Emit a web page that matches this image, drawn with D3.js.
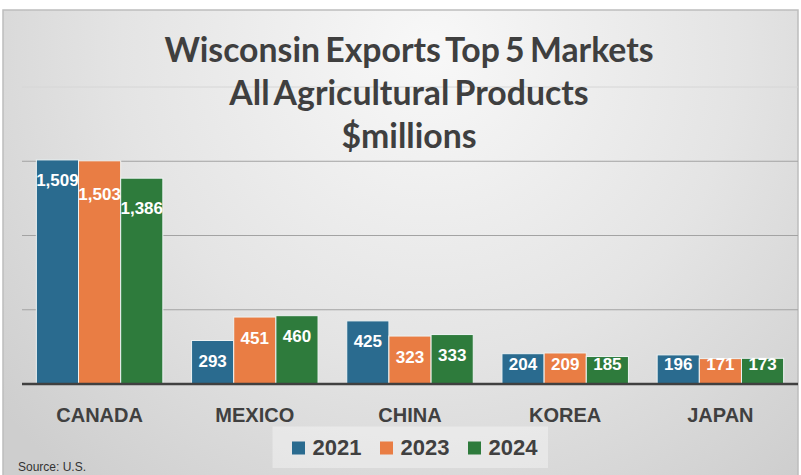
<!DOCTYPE html>
<html>
<head>
<meta charset="utf-8">
<script src="https://cdn.jsdelivr.net/npm/d3@7"></script>
<style>
  html, body { margin: 0; padding: 0; background: #ffffff; }
  svg { display: block; }
</style>
</head>
<body>
<svg id="chart" width="801" height="475"></svg>
<script>
const categories = ["CANADA", "MEXICO", "CHINA", "KOREA", "JAPAN"];
const years = ["2021", "2023", "2024"];
const values2021 = [1509, 293, 425, 204, 196];
const values2023 = [1503, 451, 323, 209, 171];
const values2024 = [1386, 460, 333, 185, 173];
const seriesValues = [values2021, values2023, values2024];
const colors = ["#2a6b8f", "#e97d44", "#2e7b3c"];
const yTicks = [500, 1000, 1500, 2000];
const titleLines = ["Wisconsin Exports Top 5 Markets", "All Agricultural Products", "$millions"];
const sourceText = "Source: U.S.";

const svg = d3.select("#chart");
const W = 801, H = 475;

// background gradient
const defs = svg.append("defs");
const grad = defs.append("radialGradient")
  .attr("id", "bg").attr("gradientUnits", "userSpaceOnUse")
  .attr("cx", 430).attr("cy", 50).attr("r", 560);
grad.append("stop").attr("offset", "0").attr("stop-color", "#f8f8f8");
grad.append("stop").attr("offset", "0.55").attr("stop-color", "#e4e4e4");
grad.append("stop").attr("offset", "1").attr("stop-color", "#cecece");

svg.append("rect").attr("x", 0).attr("y", 0).attr("width", W).attr("height", H).attr("fill", "#ffffff");
svg.append("rect").attr("x", 3).attr("y", 10).attr("width", 795).attr("height", H)
  .attr("fill", "url(#bg)").attr("stroke", "#bdbdbd").attr("stroke-width", 1.5);

const plotLeft = 22, plotRight = 798, baseY = 384;
const y = d3.scaleLinear().domain([0, 2000]).range([baseY, 87]);
const x0 = d3.scaleBand().domain(categories).range([plotLeft, plotRight])
  .paddingInner(0.185).paddingOuter(0.0925);
const x1 = d3.scaleBand().domain(years).range([0, x0.bandwidth()]);

// gridlines
svg.append("g").selectAll("line").data(yTicks).join("line")
  .attr("x1", plotLeft).attr("x2", plotRight)
  .attr("y1", d => y(d)).attr("y2", d => y(d))
  .attr("stroke", d => d === 2000 ? "#d6d6d6" : "#a3a3a3")
  .attr("stroke-width", 1);

// title
const titleG = svg.append("g");
const titleSize = 30;
titleG.selectAll("text").data(titleLines).join("text")
  .attr("x", 409).attr("y", (d, i) => 62 + i * 43)
  .attr("text-anchor", "middle")
  .attr("font-family", "Lato, 'Open Sans', sans-serif")
  .attr("font-weight", 700).attr("font-size", titleSize)
  .attr("word-spacing", -3)
  .attr("fill", "#3f3f3f")
  .text(d => d);
// fit first line to target width
const tw = titleG.select("text").node().getComputedTextLength();
const fitSize = titleSize * 488 / tw;
titleG.selectAll("text").attr("font-size", fitSize);

// bars
const data = [];
categories.forEach((c, ci) => {
  years.forEach((yr, si) => {
    data.push({ cat: c, year: yr, si, value: seriesValues[si][ci] });
  });
});

svg.append("g").selectAll("rect").data(data).join("rect")
  .attr("x", d => x0(d.cat) + x1(d.year))
  .attr("y", d => y(d.value))
  .attr("width", x1.bandwidth())
  .attr("height", d => baseY - y(d.value))
  .attr("fill", d => colors[d.si])
  .attr("stroke", "#eef3f3").attr("stroke-width", 1);

// baseline
svg.append("line").attr("x1", plotLeft).attr("x2", plotRight)
  .attr("y1", baseY).attr("y2", baseY)
  .attr("stroke", "#404040").attr("stroke-width", 2.5);

// data labels
const fmt = d3.format(",");
const labelG = svg.append("g");
const labels = labelG.selectAll("text").data(data).join("text")
  .attr("x", d => x0(d.cat) + x1(d.year) + x1.bandwidth() / 2)
  .attr("text-anchor", "middle")
  .attr("dominant-baseline", "central")
  .attr("font-family", "'Liberation Sans', Arial, sans-serif")
  .attr("font-weight", "bold").attr("font-size", 17)
  .attr("fill", "#ffffff")
  .text(d => fmt(d.value));
// position: inside end, avoid overlap
let prev = null;
labels.each(function (d) {
  const w = this.getComputedTextLength();
  const cx = x0(d.cat) + x1(d.year) + x1.bandwidth() / 2;
  let cy = Math.min(y(d.value) + 21, baseY - 20);
  if (prev && prev.cat === d.cat) {
    const hGap = (cx - w / 2) - (prev.cx + prev.w / 2);
    if (hGap < 4 && Math.abs(cy - prev.cy) < 14) cy = prev.cy + 14;
  }
  d3.select(this).attr("y", cy);
  prev = { cat: d.cat, cx, cy, w };
});

// category labels
svg.append("g").selectAll("text").data(categories).join("text")
  .attr("x", d => x0(d) + x0.bandwidth() / 2)
  .attr("y", 421.5)
  .attr("text-anchor", "middle")
  .attr("font-family", "'Liberation Sans', Arial, sans-serif")
  .attr("font-weight", "bold").attr("font-size", 20)
  .attr("fill", "#404040")
  .text(d => d);

// legend
const lg = svg.append("g");
lg.append("rect").attr("x", 272.5).attr("y", 426.5).attr("width", 275.5).attr("height", 41.5)
  .attr("fill", "#ffffff").attr("fill-opacity", 0.35);
const items = lg.selectAll("g").data(years).join("g")
  .attr("transform", (d, i) => `translate(${292 + i * 88},0)`);
items.append("rect").attr("x", 0).attr("y", 441.5).attr("width", 13).attr("height", 13)
  .attr("fill", (d, i) => colors[i]);
items.append("text").attr("x", 20.5).attr("y", 454.5)
  .attr("font-family", "'Liberation Sans', Arial, sans-serif")
  .attr("font-weight", "bold").attr("font-size", 22)
  .attr("fill", "#404040")
  .text(d => d);

// source
svg.append("text").attr("x", 18).attr("y", 471)
  .attr("font-family", "'Liberation Sans', Arial, sans-serif")
  .attr("font-size", 12).attr("fill", "#333333")
  .text(sourceText);
</script>
</body>
</html>
